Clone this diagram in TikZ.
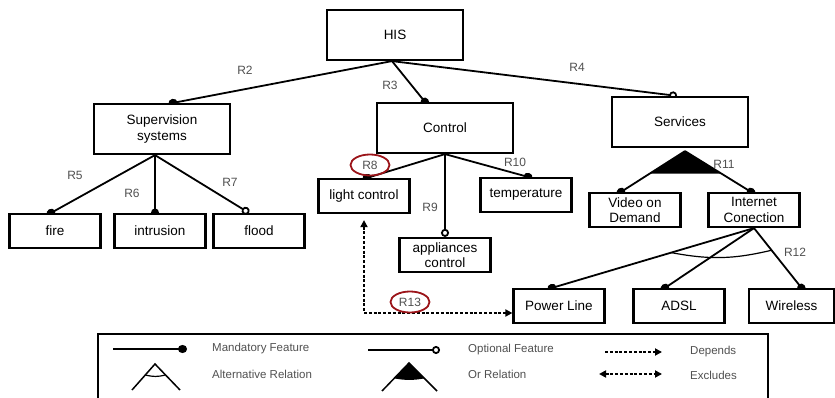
\documentclass[tikz,border=0pt]{standalone}
\usepackage{fontspec}
\setmainfont{Liberation Sans}
\usetikzlibrary{arrows.meta,calc,positioning,shapes.geometric,backgrounds}
\definecolor{labgray}{RGB}{80,80,80}
\definecolor{markred}{RGB}{155,20,25}

\begin{document}
\begin{tikzpicture}[x=1pt,y=-1pt,
    feat/.style={draw,fill=white,line width=2.2pt,minimum width=91pt,minimum height=34pt,
      inner sep=1pt,align=center,font=\fontsize{13.5}{15.5}\selectfont},
    bigfeat/.style={feat,minimum width=136pt,minimum height=50pt},
    rlab/.style={text=labgray,font=\fontsize{12}{12}\selectfont,inner sep=1pt},
    rmark/.style={rlab,draw=markred,ellipse,line width=1.8pt,inner sep=0pt,
      minimum width=39pt,minimum height=21pt},
    mand/.style={line width=1.8pt,-{Circle[length=9pt,width=8pt]}},
    opt/.style={line width=1.8pt,-{Circle[open,fill=white,length=8pt,width=8pt]}},
    dep/.style={line width=2pt,dash pattern=on 3pt off 1.8pt,
      >={Triangle[length=7pt,width=7pt]},->},
    excl/.style={dep,<->},
    legtxt/.style={anchor=west,text=labgray,font=\fontsize{11.5}{12}\selectfont,inner sep=0pt}]
  \useasboundingbox (0,0) rectangle (835,398);

  % features
  \node[bigfeat] (his) at (395,35) {HIS};
  \node[bigfeat] (sup) at (162,129) {Supervision\\systems};
  \node[bigfeat] (ctrl) at (445,128) {Control};
  \node[bigfeat] (serv) at (680,122) {Services};
  \node[feat] (fire) at (55,231) {fire};
  \node[feat] (intr) at (160,231) {intrusion};
  \node[feat] (flood) at (259,231) {flood};
  \node[feat] (light) at (364,196) {light control};
  \node[feat] (temp) at (526,195) {temperature};
  \node[feat] (appl) at (445,255) {appliances\\control};
  \node[feat] (vod) at (635,210) {Video on\\Demand};
  \node[feat] (inet) at (754,210) {Internet\\Conection};
  \node[feat] (pline) at (559,306) {Power Line};
  \node[feat] (adsl) at (679,306) {ADSL};
  \node[feat,minimum width=85pt] (wless) at (791.5,306) {Wireless};

  \coordinate (hisb) at ([xshift=-3pt]his.south);
  \coordinate (supb) at ([xshift=-7pt]sup.south);
  \coordinate (servb) at ([xshift=5pt,yshift=-3pt]serv.south);

  \begin{scope}[on background layer]
    \begin{scope}[shorten >=-4.5pt]
      \draw[mand] (hisb) -- ([xshift=11pt]sup.north);
      \draw[mand] (hisb) -- ([xshift=-20pt]ctrl.north);
      \draw[mand] (supb) -- ([xshift=-4pt]fire.north);
      \draw[mand] (supb) -- ([xshift=-5pt]intr.north);
      \draw[mand] (ctrl.south) -- ([xshift=3pt]light.north);
      \draw[mand] (ctrl.south) -- ([xshift=2pt]temp.north);
      \draw[mand] (servb) -- ([xshift=-14pt]vod.north);
      \draw[mand] (servb) -- ([xshift=-3pt]inet.north);
      \draw[mand] (inet.south) -- ([xshift=-7pt]pline.north);
      \draw[mand] (inet.south) -- ([xshift=-14pt]adsl.north);
      \draw[mand] (inet.south) -- ([xshift=10pt]wless.north);
    \end{scope}
    \draw[opt] (hisb) -- ([xshift=-3pt]serv.north);
    \draw[opt] (supb) -- ([xshift=-10pt]flood.north);
    \draw[opt] (ctrl.south) -- (appl.north);
  \end{scope}

  % or relation of Services, group of Internet Conection
  \fill (servb) -- ($(servb)!0.55!([xshift=-14pt]vod.north)$)
    -- ($(servb)!0.55!([xshift=-3pt]inet.north)$) -- cycle;
  \draw[line width=1.2pt] ($(inet.south)!0.41!([xshift=-7pt]pline.north)$)
    to[bend right=12] ($(inet.south)!0.37!([xshift=10pt]wless.north)$);

  % depends / excludes
  \draw[excl] ([yshift=-6pt]light.south) |- ([yshift=-7pt]pline.west);

  % relation names
  \node[rlab] (r2) at (245,70) {R2};
  \node[rlab] (r3) at (390,85) {R3};
  \node[rlab] (r4) at (577,67) {R4};
  \node[rlab] (r5) at (75,175) {R5};
  \node[rlab] (r6) at (132,193) {R6};
  \node[rlab] (r7) at (230,182) {R7};
  \node[rmark] (r8) at (370,165) {R8};
  \node[rlab] (r9) at (430,207) {R9};
  \node[rlab] (r10) at (515,162) {R10};
  \node[rlab] (r11) at (724,164) {R11};
  \node[rlab] (r12) at (795,252) {R12};
  \node[rmark] (r13) at (410,302) {R13};

  % legend
  \draw[line width=2.2pt] (98,334) rectangle (768,412);
  \coordinate (lm) at (113,349);
  \draw[mand] (lm) -- ++(74,0);
  \node[legtxt] (lmt) at (212,349) {Mandatory Feature};
  \coordinate (lo) at (368,350);
  \draw[opt] (lo) -- ++(72,0);
  \node[legtxt] (lot) at (468,350) {Optional Feature};
  \coordinate (lalt) at (155,364);
  \draw[line width=1.5pt] (132,390) -- (lalt) -- (180,390);
  \draw[line width=1.2pt] ($(lalt)!0.42!(132,390)$) to[bend right=15] ($(lalt)!0.42!(180,390)$);
  \node[legtxt] (lat) at (212,374) {Alternative Relation};
  \coordinate (lor) at (409,363);
  \draw[line width=1.5pt] (382,391) -- (lor) -- (437,391);
  \fill (lor) -- ($(lor)!0.55!(382,391)$) to[bend right=10] ($(lor)!0.55!(437,391)$) -- cycle;
  \node[legtxt] (lrt) at (468,374) {Or Relation};
  \draw[dep] (605,352) -- (662,352);
  \node[legtxt] (ldt) at (690,352) {Depends};
  \draw[excl] (599,374) -- (662,374);
  \node[legtxt] (let) at (690,375) {Excludes};
\end{tikzpicture}
\end{document}
